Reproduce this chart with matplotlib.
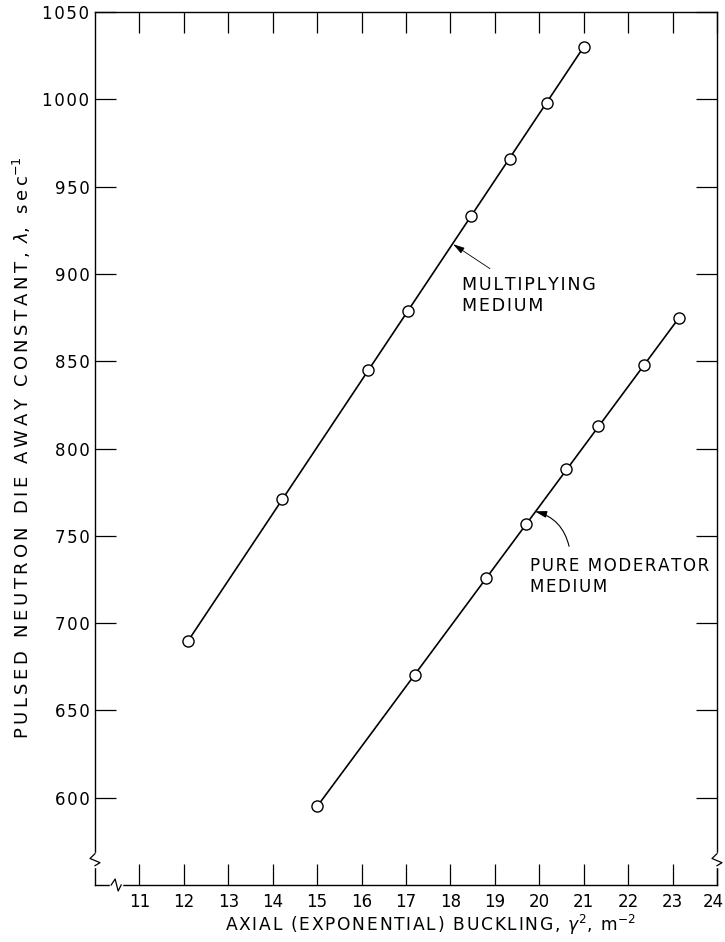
import matplotlib
matplotlib.use("Agg")
import matplotlib.pyplot as plt
import matplotlib.transforms as mtransforms

# data
mult_x = [12.1, 14.2, 16.15, 17.05, 18.47, 19.33, 20.18, 21.0]
mult_y = [690, 771, 845, 879, 933, 966, 998, 1030]
mod_x = [15.0, 17.2, 18.8, 19.69, 20.6, 21.33, 22.35, 23.15]
mod_y = [595, 670, 726, 757, 788, 813, 848, 875]

x_ticks = list(range(11, 25))
y_ticks = list(range(600, 1051, 50))


def spaced(s, gap="\u200a"):
    # extra space between letters to mimic the wide lettering
    return gap.join(s)


plt.rcParams["font.family"] = ["DejaVu Sans"]
plt.rcParams["mathtext.fontset"] = "dejavusans"

fig = plt.figure(figsize=(7.25, 9.42), dpi=100)
ax = fig.add_axes([95 / 725, 57 / 942, 622 / 725, 873 / 942])
ax.set_xlim(10, 24)
ax.set_ylim(550, 1050)

# straight line from first to last point, then the open circles
for xs, ys in [(mult_x, mult_y), (mod_x, mod_y)]:
    ax.plot([xs[0], xs[-1]], [ys[0], ys[-1]], color="black", lw=1.2, zorder=2)
    ax.plot(xs, ys, "o", ms=8, mfc="white", mec="black", mew=1.0, zorder=3)

ax.set_xticks(x_ticks)
ax.set_xticklabels([str(t) for t in x_ticks])
ax.set_yticks(y_ticks)
ax.set_yticklabels([spaced(str(t)) for t in y_ticks])
ax.tick_params(direction="in", length=15, width=0.9, labelsize=12,
               top=True, right=True, color="black")
ax.tick_params(axis="y", pad=4)
ax.tick_params(axis="x", pad=6)
for s in ax.spines.values():
    s.set_linewidth(1.0)
# keep the last x label inside the figure edge
last = ax.get_xticklabels()[-1]
last.set_transform(last.get_transform()
                   + mtransforms.ScaledTranslation(-0.04, 0, fig.dpi_scale_trans))

# axis labels
fig.text(430 / 725, 1 - 925 / 942,
         spaced("AXIAL (EXPONENTIAL) BUCKLING, ") + r"$\gamma^2$" + spaced(", m") + r"$^{-2}$",
         ha="center", va="center", fontsize=12.3)
fig.text(22 / 725, 1 - 448 / 942,
         spaced("PULSED NEUTRON DIE AWAY CONSTANT, ", "\u2009") + r"$\lambda$"
         + spaced(", sec", "\u2009") + r"$^{-1}$",
         ha="center", va="center", rotation=90, fontsize=13)

# curve labels with arrows
ax.annotate("", xy=(18.06, 917), xytext=(18.89, 903),
            arrowprops=dict(arrowstyle="-|>,head_length=0.7,head_width=0.2",
                            color="black", lw=0.6, shrinkA=0, shrinkB=0))
ax.text(18.26, 899, spaced("MULTIPLYING") + "\n" + spaced("MEDIUM"),
        ha="left", va="top", fontsize=12.6, linespacing=1.25)

ax.annotate("", xy=(19.90, 764), xytext=(20.67, 744),
            arrowprops=dict(arrowstyle="-|>,head_length=0.7,head_width=0.2",
                            color="black", lw=0.8, shrinkA=0, shrinkB=0,
                            connectionstyle="arc3,rad=0.3"))
ax.text(19.79, 738, spaced("PURE MODERATOR") + "\n" + spaced("MEDIUM"),
        ha="left", va="top", fontsize=12, linespacing=1.25)

# axis break marks (small zigzags on the spines)
dx, dy = 5 / 622, 6 / 873
tr = ax.transAxes
for xb in [0.0, 1.0]:
    yb = 0.029
    ax.plot([xb, xb], [yb - dy, yb + dy], color="white", lw=2.5,
            transform=tr, clip_on=False, zorder=4)
    ax.plot([xb, xb - dx, xb + dx, xb], [yb + dy, yb + 0.2 * dy, yb - 0.5 * dy, yb - dy],
            color="black", lw=0.9, transform=tr, clip_on=False, zorder=5)
xb = 0.034
ax.plot([xb - dx, xb + dx], [0, 0], color="white", lw=2.5,
        transform=tr, clip_on=False, zorder=4)
ax.plot([xb - dx, xb - 0.2 * dx, xb + 0.4 * dx, xb + dx],
        [0, dy, -dy, 0], color="black", lw=0.9, transform=tr, clip_on=False, zorder=5)

fig.savefig("out.png", dpi=100)
